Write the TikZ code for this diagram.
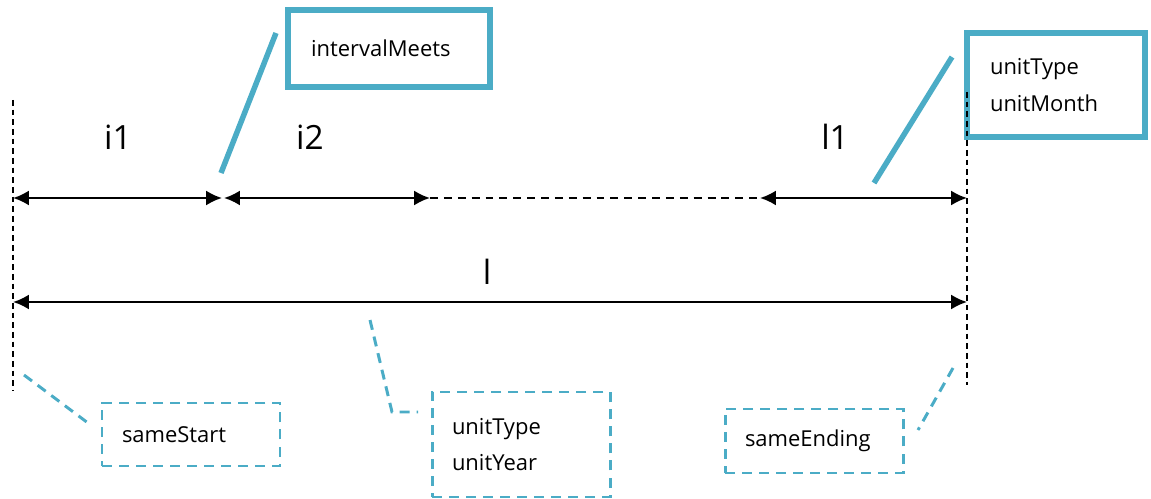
\documentclass[tikz,border=0pt]{standalone}
\usepackage{fontspec}
\setmainfont{Open Sans}
\usetikzlibrary{calc, positioning}
\usetikzlibrary{arrows.meta}

\definecolor{notecol}{RGB}{75,172,198}

\begin{document}
\begin{tikzpicture}[x=0.02cm, y=-0.02cm,
  span/.style={line width=1.3pt, {Latex[length=9pt,width=8.5pt]}-{Latex[length=9pt,width=8.5pt]}},
  tick/.style={line width=1.2pt, dash pattern=on 3.2pt off 2.3pt},
  gap/.style={line width=1.1pt, dash pattern=on 4.5pt off 3.4pt},
  spanlabel/.style={font=\fontsize{19}{22}\selectfont, inner sep=0pt},
  note/.style={anchor=north west, align=left, outer sep=0pt,
    font=\fontsize{12.5}{21}\selectfont, fill=white},
  solidnote/.style={note, draw=notecol, line width=3.3pt},
  dashnote/.style={note, draw=notecol, line width=1.7pt, dash pattern=on 5.7pt off 4pt},
  solidlink/.style={draw=notecol, line width=3.1pt},
  dashlink/.style={draw=notecol, line width=1.7pt, dash pattern=on 5.7pt off 4pt}]
\def\px{0.02cm}
\useasboundingbox (0,0) rectangle (1151,499);

% end points on the time line
\coordinate (startTop) at (13,100);
\coordinate (startBot) at (13,390);
\coordinate (endTop) at (967,92);
\coordinate (endBot) at (967,385);

\coordinate (a0) at (13,198);
\coordinate (a1) at (222,198);
\coordinate (a2) at (224,198);
\coordinate (a3) at (430,198);
\coordinate (a4) at (760,198);
\coordinate (a5) at (967,198);

\coordinate (b0) at (13,302);
\coordinate (b1) at (967,302);

% notes
\node[solidnote, minimum width=202*\px, minimum height=77*\px, inner xsep=23*\px, text width=156*\px] (meetsNote) at (288,10) {intervalMeets};
\node[solidnote, minimum width=178*\px, minimum height=104*\px, inner xsep=23*\px, text width=132*\px] (monthNote) at (967,33) {unitType\\unitMonth};
\node[dashnote, minimum width=178*\px, minimum height=63*\px, inner xsep=20*\px, text width=138*\px] (startNote) at (102,403) {sameStart};
\node[dashnote, minimum width=178*\px, minimum height=105*\px, inner xsep=20*\px, text width=138*\px] (yearNote) at (432,392) {unitType\\[-1pt]unitYear};
\node[dashnote, minimum width=178*\px, minimum height=64*\px, inner xsep=20*\px, text width=138*\px] (endNote) at (725,409) {sameEnding};

\draw[tick] (startTop) -- (startBot);
\draw[tick] (endTop) -- (endBot);

\draw[span] (a0) -- (a1);
\draw[span] (a2) -- (a3);
\draw[gap] (a3) -- (a4);
\draw[span] (a4) -- (a5);
\draw[span] (b0) -- (b1);

\node[spanlabel] (i1) at (118,137) {i1};
\node[spanlabel] (i2) at (310,137) {i2};
\node[spanlabel] (l1) at (835,137) {l1};
\node[spanlabel] (l) at (487,272) {l};

% links to the notes
\coordinate (meetsTip) at (276,33);
\coordinate (meetsFoot) at (221,173);
\coordinate (monthTip) at (952,57);
\coordinate (monthFoot) at (874,183);
\coordinate (startFrom) at (24,375);
\coordinate (startTo) at (88,423);
\coordinate (yearFrom) at (370,320);
\coordinate (yearBend) at (392,412);
\coordinate (yearTo) at (418,412);
\coordinate (endFrom) at (953,368);
\coordinate (endTo) at (918,430);

\draw[solidlink] (meetsTip) -- (meetsFoot);
\draw[solidlink] (monthTip) -- (monthFoot);
\draw[dashlink] (startFrom) -- (startTo);
\draw[dashlink] (yearFrom) -- (yearBend) -- (yearTo);
\draw[dashlink] (endFrom) -- (endTo);
\end{tikzpicture}
\end{document}
